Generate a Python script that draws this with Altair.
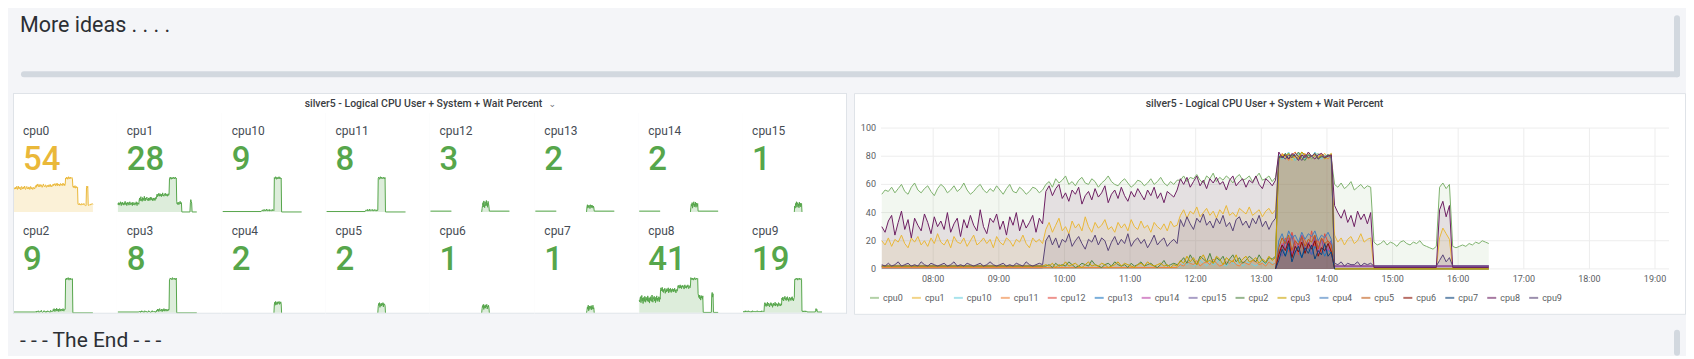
import altair as alt
import pandas as pd

# ---------------- data ----------------
CPUS = ["cpu0", "cpu1", "cpu10", "cpu11", "cpu12", "cpu13", "cpu14", "cpu15",
        "cpu2", "cpu3", "cpu4", "cpu5", "cpu6", "cpu7", "cpu8", "cpu9"]
STAT_VALUES = [54, 28, 9, 8, 3, 2, 2, 1, 9, 8, 2, 2, 1, 1, 41, 19]
PALETTE = ["#7EB26D", "#EAB839", "#6ED0E0", "#EF843C", "#E24D42", "#1F78C1", "#BA43A9", "#705DA0",
           "#508642", "#CCA300", "#447EBF", "#C15C17", "#890F02", "#0A437C", "#6D1F62", "#584477"]
HOUR_TICKS = [8, 9, 10, 11, 12, 13, 14, 15, 16, 17, 18, 19]
HOUR_LABELS = ["08:00", "09:00", "10:00", "11:00", "12:00", "13:00",
               "14:00", "15:00", "16:00", "17:00", "18:00", "19:00"]
Y_TICKS = [0, 20, 40, 60, 80, 100]
PANEL_TITLE = "silver5 - Logical CPU User + System + Wait Percent"

# each series: list of runs (a run is drawn as one connected line);
# a run is a list of (start "HH:MM", values sampled every 3 minutes)
cpu0 = [[
    ("07:13", [53, 56, 55, 58, 54, 57, 60, 55, 53, 58, 61, 56, 54, 57, 59, 55, 52, 57, 60, 58,
               54, 56, 59, 55, 57, 61, 56, 53, 55, 58, 60, 56, 54, 57, 55, 59, 56, 53, 57, 60,
               55, 54, 58, 56, 53, 55, 58, 57, 54, 56]),
    ("09:43", [60, 62, 58, 64, 61, 63, 66, 60, 62, 59, 63, 65, 61, 60, 64, 62, 58, 61, 63, 66,
               62, 60, 59, 62, 64, 61, 58, 60, 63, 62, 59, 61, 64, 60, 62, 65, 61, 59, 62, 60, 63]),
    ("11:46", [63, 66, 62, 65, 64, 67, 63, 61, 66, 64, 68, 62, 65, 63, 66, 64, 61, 65, 67, 63,
               64, 66, 62, 65, 68, 63, 64, 66, 62, 65]),
    ("13:16", [80, 78, 82, 79, 81, 77, 80, 83, 79, 81, 78, 80, 82, 79, 80, 81, 78]),
    ("14:07", [60, 58, 61, 57, 59, 62, 56, 58, 60, 57, 59, 58]),
    ("14:43", [19, 17, 18, 20, 17, 19, 18, 16, 19, 20, 18, 17, 19, 18, 20, 17, 16, 15, 14, 16]),
    ("15:43", [58, 61, 57, 60]),
    ("15:55", [16, 15, 16, 17, 16, 18, 17, 19, 18, 20, 19, 18]),
]]
cpu1 = [[
    ("07:13", [20, 17, 22, 16, 21, 19, 24, 18, 15, 22, 19, 23, 17, 20, 16, 22, 18, 25, 19, 17,
               21, 15, 23, 19, 18, 22, 16, 20, 24, 17, 19, 22, 18, 21, 15, 23, 19, 17, 22, 20,
               16, 21, 19, 24, 18, 15, 22, 19, 21, 18]),
    ("09:43", [28, 33, 26, 31, 36, 27, 30, 25, 34, 29, 32, 27, 37, 30, 26, 33, 29, 31, 35, 28,
               30, 26, 33, 29, 32, 27, 35, 30, 28, 34, 29, 31, 26, 33, 30, 28, 32, 27, 34, 30, 31]),
    ("11:46", [38, 42, 36, 41, 39, 44, 37, 40, 43, 38, 41, 36, 42, 39, 45, 38, 40, 37, 43, 41,
               39, 44, 38, 40, 42, 37, 41, 43, 39, 42]),
    ("13:16", [78, 81, 79, 82, 77, 80, 81, 78, 80, 82, 79, 81, 78, 80, 82, 79, 80]),
    ("14:07", [24, 19, 22, 17, 21, 23, 18, 20, 25, 19, 21, 22]),
    ("14:43", [0]), ("15:40", [0]),
    ("15:43", [22, 29, 25, 21]),
    ("15:55", [0]), ("16:28", [0]),
]]
cpu8 = [[
    ("07:13", [30, 26, 34, 38, 24, 33, 41, 28, 35, 22, 36, 31, 27, 39, 33, 25, 37, 30, 34, 28,
               40, 26, 32, 36, 23, 35, 29, 38, 31, 27, 42, 30, 25, 36, 33, 39, 28, 34, 24, 37,
               31, 40, 27, 35, 29, 33, 38, 26, 36, 32]),
    ("09:43", [55, 59, 52, 57, 60, 50, 54, 48, 56, 53, 58, 46, 52, 55, 49, 57, 51, 54, 59, 47,
               53, 56, 50, 58, 52, 48, 55, 51, 57, 53, 49, 56, 52, 58, 50, 54, 47, 55, 53, 51, 56]),
    ("11:46", [64, 60, 65, 58, 62, 66, 59, 63, 57, 64, 61, 65, 60, 62, 56, 63, 66, 59, 62, 64,
               58, 63, 61, 66, 60, 57, 64, 62, 59, 63]),
    ("13:16", [83, 79, 81, 78, 82, 80, 77, 81, 79, 83, 80, 78, 81, 82, 79, 80, 81]),
    ("14:07", [45, 40, 36, 42, 33, 38, 30, 41, 35, 39, 32, 40]),
    ("14:43", [1]), ("15:40", [1]),
    ("15:43", [42, 48, 37, 45]),
    ("15:55", [1]), ("16:28", [1]),
]]
cpu9 = [[
    ("07:13", [3, 2, 4, 2, 3, 5, 2, 3, 4, 2, 3, 2, 5, 3, 2, 4, 3, 2, 3, 4,
               2, 3, 5, 2, 3, 2, 4, 3, 2, 3, 4, 2, 3, 5, 3, 2, 3, 4, 2, 3,
               2, 4, 3, 2, 5, 3, 2, 3, 4, 3]),
    ("09:43", [20, 24, 17, 22, 15, 21, 19, 25, 16, 20, 23, 18, 14, 21, 19, 24, 17, 22, 20, 13,
               19, 23, 17, 21, 18, 25, 16, 20, 22, 18, 21, 15, 19, 24, 17, 20, 22, 16, 19, 21, 18]),
    ("11:46", [35, 30, 37, 32, 28, 36, 33, 39, 31, 34, 29, 36, 32, 38, 30, 33, 27, 35, 37, 31,
               34, 29, 36, 32, 38, 30, 34, 28, 33, 36]),
    ("13:16", [79, 80, 78, 81, 79, 82, 80, 77, 81, 79, 80, 82, 78, 80, 79, 81, 79]),
    ("14:07", [4, 3, 5, 2, 4, 3, 3, 5, 2, 4, 3, 4]),
    ("14:43", [2]), ("15:40", [2]),
    ("15:43", [6, 10, 5, 8]),
    ("15:55", [2]), ("16:28", [2]),
]]
cpu10 = [[
    ("07:13", [1]), ("11:43", [1]),
    ("11:46", [2, 4, 3, 5, 2, 3, 6, 4, 2, 5, 3, 4, 7, 3, 2, 5, 4, 3, 6, 2, 4, 5, 3, 2, 4, 6, 3, 5, 4, 3]),
    ("13:16", [81, 78, 80, 83, 79, 77, 82, 80, 78, 81, 79, 83, 80, 78, 81, 79, 80]),
    ("14:07", [0]), ("16:28", [0]),
]]
cpu11 = [[
    ("07:13", [1]), ("11:43", [1]),
    ("11:46", [3, 2, 5, 4, 3, 6, 2, 4, 5, 3, 7, 4, 2, 3, 5, 4, 6, 3, 2, 5, 4, 3, 6, 5, 3, 4, 2, 5, 3, 4]),
    ("13:16", [79, 82, 80, 77, 81, 83, 79, 80, 82, 78, 80, 81, 79, 82, 80, 78, 81]),
    ("14:07", [0]), ("16:28", [0]),
]]
cpu2 = [[
    ("07:13", [2]), ("09:40", [2]),
    ("09:43", [2, 3, 1, 4, 2, 3, 2, 5, 3, 1, 2, 4, 3, 2, 6, 3, 2, 1, 3, 4,
               2, 5, 3, 2, 3, 1, 4, 2, 3, 5, 2, 3, 4, 2, 1, 3, 6, 2, 3, 4, 3]),
    ("11:46", [5, 8, 4, 10, 6, 3, 9, 7, 5, 11, 4, 8, 6, 9, 3, 7, 10, 5, 8, 4, 6, 9, 7, 5, 10, 6, 4, 8, 7, 9]),
    ("13:16", [80, 79, 82, 78, 81, 80, 83, 79, 77, 81, 80, 82, 78, 80, 79, 81, 80]),
    ("14:07", [0]), ("16:28", [0]),
]]
cpu3 = [[
    ("07:13", [2]), ("09:40", [2]),
    ("09:43", [3, 2, 4, 1, 3, 2, 5, 2, 3, 4, 2, 1, 3, 5, 2, 3, 2, 4, 3, 1,
               2, 3, 5, 2, 4, 3, 2, 1, 3, 4, 2, 5, 3, 2, 3, 4, 2, 3, 1, 3, 2]),
    ("11:46", [6, 4, 9, 5, 8, 3, 7, 10, 5, 6, 4, 9, 7, 3, 8, 6, 5, 10, 4, 7, 9, 5, 6, 8, 4, 7, 5, 9, 6, 8]),
    ("13:16", [78, 81, 80, 82, 79, 80, 78, 83, 81, 79, 80, 82, 79, 81, 78, 80, 82]),
    ("14:07", [0]), ("16:28", [0]),
]]
cpu12 = [[("07:13", [2]), ("09:40", [2])],
         [("13:13", [0]),
          ("13:16", [8, 15, 22, 12, 26, 18, 10, 24, 20, 14, 27, 16, 21, 11, 25, 19, 13]),
          ("14:07", [2]), ("16:28", [2])]]
cpu13 = [[("07:13", [2]), ("09:40", [2])],
         [("13:13", [0]),
          ("13:16", [12, 17, 9, 15, 11, 16, 13, 8, 17, 14, 10, 16, 12, 15, 9, 14, 11]),
          ("14:07", [2]), ("16:28", [2])]]
cpu14 = [[("07:13", [2]), ("09:40", [2])],
         [("13:13", [0]),
          ("13:16", [10, 18, 14, 22, 9, 20, 16, 24, 12, 19, 15, 23, 11, 21, 17, 13, 20]),
          ("14:07", [2]), ("16:28", [2])]]
cpu15 = [[("13:13", [0]),
          ("13:16", [14, 9, 20, 16, 24, 11, 18, 22, 13, 19, 10, 23, 15, 21, 12, 17, 20]),
          ("14:07", [0])]]
cpu4 = [[("13:13", [0]),
         ("13:16", [20, 25, 18, 27, 22, 24, 19, 26, 21, 25, 23, 27, 20, 24, 22, 26, 21]),
         ("14:07", [0])]]
cpu5 = [[("13:13", [0]),
         ("13:16", [15, 22, 18, 24, 13, 20, 17, 23, 16, 21, 19, 24, 14, 22, 18, 20, 17]),
         ("14:07", [0])]]
cpu6 = [[("13:13", [0]),
         ("13:16", [10, 17, 13, 20, 8, 16, 12, 19, 11, 18, 14, 20, 9, 15, 13, 18, 12]),
         ("14:07", [0])]]
cpu7 = [[("13:13", [0]),
         ("13:16", [6, 14, 9, 18, 5, 12, 16, 8, 15, 11, 17, 7, 13, 10, 18, 9, 12]),
         ("14:07", [0])]]

SERIES = {"cpu0": cpu0, "cpu1": cpu1, "cpu10": cpu10, "cpu11": cpu11, "cpu12": cpu12,
          "cpu13": cpu13, "cpu14": cpu14, "cpu15": cpu15, "cpu2": cpu2, "cpu3": cpu3,
          "cpu4": cpu4, "cpu5": cpu5, "cpu6": cpu6, "cpu7": cpu7, "cpu8": cpu8, "cpu9": cpu9}

STEP_MIN = 3
T_START, T_END = "07:13", "16:28"          # extent of the data
AXIS_START, AXIS_END = 7.204, 19.213       # visible time range of the graph (hours)


def hours(s):
    h, m = s.split(":")
    return int(h) + int(m) / 60.0


rows = []
for name, runs in SERIES.items():
    for k, run in enumerate(runs):
        for start, vals in run:
            t0 = hours(start)
            for i, v in enumerate(vals):
                rows.append({"cpu": name, "run": f"{name}-{k}",
                             "t": round(t0 + i * STEP_MIN / 60.0, 4), "v": v})
df = pd.DataFrame(rows)

# ---------------- styling ----------------
FONT = "Roboto"
BG = "#f4f5f8"
BORDER = "#dfe3e8"
TEXT = "#464c54"
AXIS_TEXT = "#5b5e63"
OK_COLOR = "#56A64B"
WARN_COLOR = "#EAB839"
ONE = [{"k": 0}]


def one():
    return alt.Chart(alt.Data(values=ONE))


def edge_rects(w, h, left=False, right=False, top=False, bottom=False):
    """1px panel border pieces drawn as unstroked rects, so they stay inside the view."""
    out = []
    sides = []
    if left:
        sides.append((0, 1, 0, h))
    if right:
        sides.append((w - 1, w, 0, h))
    if top:
        sides.append((0, w, 0, 1))
    if bottom:
        sides.append((0, w, h - 1, h))
    for x0, x1, y0, y1 in sides:
        out.append(one().mark_rect(color=BORDER, strokeWidth=0).encode(
            x=alt.value(x0), x2=alt.value(x1), y=alt.value(y0), y2=alt.value(y1)))
    return out


# ---------------- top text panel ----------------
TOP_W, TOP_H = 1673, 84
top = alt.layer(
    one().mark_text(align="left", baseline="alphabetic", fontSize=21.5,
                    color="#2c2f34").encode(
        x=alt.value(7), y=alt.value(24), text=alt.value("More ideas . . . .")),
    one().mark_rule(color="#d2d8df", strokeWidth=6, strokeCap="round").encode(
        x=alt.value(11), x2=alt.value(1666), y=alt.value(66)),
    one().mark_rule(color="#d2d8df", strokeWidth=6, strokeCap="round").encode(
        x=alt.value(1666), y=alt.value(10), y2=alt.value(66)),
).properties(width=TOP_W, height=TOP_H)

# ---------------- left: stat grid ----------------
COL_W = [104, 105, 104, 104, 105, 104, 104, 105]
LEFT_W = 835
TITLE_H = 20
ROW_H = [100, 101]
SPARK_W = 80
SPARK_H = 42.5
TITLE_CX = 411          # centre of the panel title, measured from the panel's left edge

title_left = alt.layer(
    one().mark_text(fontSize=10.5, fontWeight=500, color="#3a3d42", baseline="middle").encode(
        x=alt.value(TITLE_CX), y=alt.value(11), text=alt.value(PANEL_TITLE)),
    one().mark_text(fontSize=9, color="#6e7277", baseline="middle", font="DejaVu Sans").encode(
        x=alt.value(TITLE_CX + 129), y=alt.value(11), text=alt.value("⌄")),
    *edge_rects(LEFT_W, TITLE_H, left=True, right=True, top=True),
).properties(width=LEFT_W, height=TITLE_H, view=alt.ViewBackground(fill="white", strokeWidth=0))


def stat_cell(idx):
    name = CPUS[idx]
    value = STAT_VALUES[idx]
    r, c = divmod(idx, 8)
    w, h = COL_W[c], ROW_H[r]
    color = WARN_COLOR if value >= 50 else OK_COLOR
    xs = alt.Scale(domain=[hours(T_START), hours(T_END)], range=[1, SPARK_W])
    ys = alt.Scale(domain=[0, 100], range=[h - 1, h - 1 - SPARK_H])
    base = alt.Chart(df).transform_filter(alt.datum.cpu == name)
    enc = dict(x=alt.X("t:Q", scale=xs, axis=None),
               y=alt.Y("v:Q", scale=ys, axis=None, stack=None),
               detail="run:N")
    layers = [
        base.mark_area(color=color, opacity=0.2).encode(**enc),
        base.mark_line(color=color, strokeWidth=1, strokeJoin="round").encode(**enc),
        one().mark_text(align="left", baseline="alphabetic", fontSize=12, color=TEXT).encode(
            x=alt.value(10), y=alt.value(22), text=alt.value(name)),
        one().mark_text(align="left", baseline="alphabetic", fontSize=33, fontWeight=500,
                        color=color).encode(
            x=alt.value(10), y=alt.value(57), text=alt.value(str(value))),
    ]
    layers += edge_rects(w, h, left=(c == 0), right=(c == 7), bottom=(r == 1))
    return alt.layer(*layers).properties(
        width=w, height=h, view=alt.ViewBackground(fill="white", strokeWidth=0))


left_panel = alt.vconcat(
    title_left,
    alt.hconcat(*[stat_cell(i) for i in range(8)], spacing=0, bounds="flush"),
    alt.hconcat(*[stat_cell(i) for i in range(8, 16)], spacing=0, bounds="flush"),
    spacing=0,
)

# ---------------- right: time series ----------------
RIGHT_W, RIGHT_H = 832, 221
XS = alt.Scale(domain=[AXIS_START, AXIS_END], range=[27, 816])
YS = alt.Scale(domain=[0, 100], range=[176, 35])
PX = alt.Scale(domain=[0, RIGHT_W], range=[0, RIGHT_W])
SERIES_STROKE = alt.Scale(domain=CPUS, range=PALETTE)
hours_df = pd.DataFrame({"h": HOUR_TICKS, "lab": HOUR_LABELS})
yt_df = pd.DataFrame({"v": Y_TICKS})
legend_df = pd.DataFrame({"cpu": CPUS, "idx": list(range(len(CPUS)))})

grid_v = alt.Chart(hours_df).mark_rule(color="#ededed", strokeWidth=1).encode(
    x=alt.X("h:Q", scale=XS, axis=None), y=alt.value(35), y2=alt.value(176))
grid_h = alt.Chart(yt_df).mark_rule(color="#ededed", strokeWidth=1).encode(
    y=alt.Y("v:Q", scale=YS, axis=None), x=alt.value(27), x2=alt.value(816))
xlab = alt.Chart(hours_df).mark_text(fontSize=9, color=AXIS_TEXT, baseline="middle").encode(
    x=alt.X("h:Q", scale=XS, axis=None), y=alt.value(186), text="lab:N")
ylab = alt.Chart(yt_df).mark_text(fontSize=9, color=AXIS_TEXT, align="right",
                                  baseline="middle").encode(
    y=alt.Y("v:Q", scale=YS, axis=None), x=alt.value(22), text="v:Q")

areas = alt.Chart(df).mark_area(opacity=0.1).encode(
    x=alt.X("t:Q", scale=XS, axis=None),
    y=alt.Y("v:Q", scale=YS, axis=None, stack=None),
    fill=alt.Fill("cpu:N", scale=alt.Scale(domain=CPUS, range=PALETTE), legend=None),
    detail="run:N",
)
lines = alt.Chart(df).mark_line(strokeWidth=1).encode(
    x=alt.X("t:Q", scale=XS, axis=None),
    y=alt.Y("v:Q", scale=YS, axis=None),
    stroke=alt.Stroke("cpu:N", scale=SERIES_STROKE, legend=None),
    detail="run:N",
)

# legend row: each entry is as wide as its label (about 5 px per character) plus symbol and gaps
leg_base = alt.Chart(legend_df).transform_calculate(
    w="length(datum.cpu) * 5 + 22"
).transform_window(
    cum="sum(w)", sort=[alt.SortField("idx")], frame=[None, 0]
).transform_calculate(
    sx="16 + datum.cum - datum.w"
).transform_calculate(
    sx2="datum.sx + 9", tx="datum.sx + 13"
)
leg_sym = leg_base.mark_rule(strokeWidth=2, opacity=0.6).encode(
    x=alt.X("sx:Q", scale=PX, axis=None), x2="sx2:Q", y=alt.value(205),
    stroke=alt.Stroke("cpu:N", scale=SERIES_STROKE, legend=None))
leg_txt = leg_base.mark_text(align="left", baseline="middle", fontSize=9, color=AXIS_TEXT).encode(
    x=alt.X("tx:Q", scale=PX, axis=None), y=alt.value(205), text="cpu:N")

title_right = one().mark_text(fontSize=10.5, fontWeight=500, color="#3a3d42",
                              baseline="middle").encode(
    x=alt.value(411), y=alt.value(11), text=alt.value(PANEL_TITLE))

right_panel = alt.layer(grid_v, grid_h, areas, lines, xlab, ylab, leg_sym, leg_txt,
                        title_right).resolve_scale(x="independent").properties(
    width=RIGHT_W, height=RIGHT_H,
    view=alt.ViewBackground(fill="white", stroke=BORDER, strokeWidth=1),
)

middle = alt.hconcat(left_panel, right_panel, spacing=6).resolve_scale(
    stroke="independent", fill="independent")

# ---------------- bottom text panel ----------------
bottom = alt.layer(
    one().mark_text(align="left", baseline="alphabetic", fontSize=21,
                    color="#2c2f34").encode(
        x=alt.value(7), y=alt.value(32), text=alt.value("- - - The End - - -")),
    one().mark_rule(color="#d2d8df", strokeWidth=6, strokeCap="round").encode(
        x=alt.value(1666), y=alt.value(18), y2=alt.value(38)),
).properties(width=TOP_W, height=38)

chart = alt.vconcat(top, middle, bottom, spacing=0).resolve_scale(
    stroke="independent", fill="independent"
).properties(
    background=BG, padding={"left": 5, "top": 0, "right": 0, "bottom": 0}
).configure(font=FONT).configure_view(strokeWidth=0)

chart.save("out.html", embed_options={"renderer": "svg", "actions": False})
